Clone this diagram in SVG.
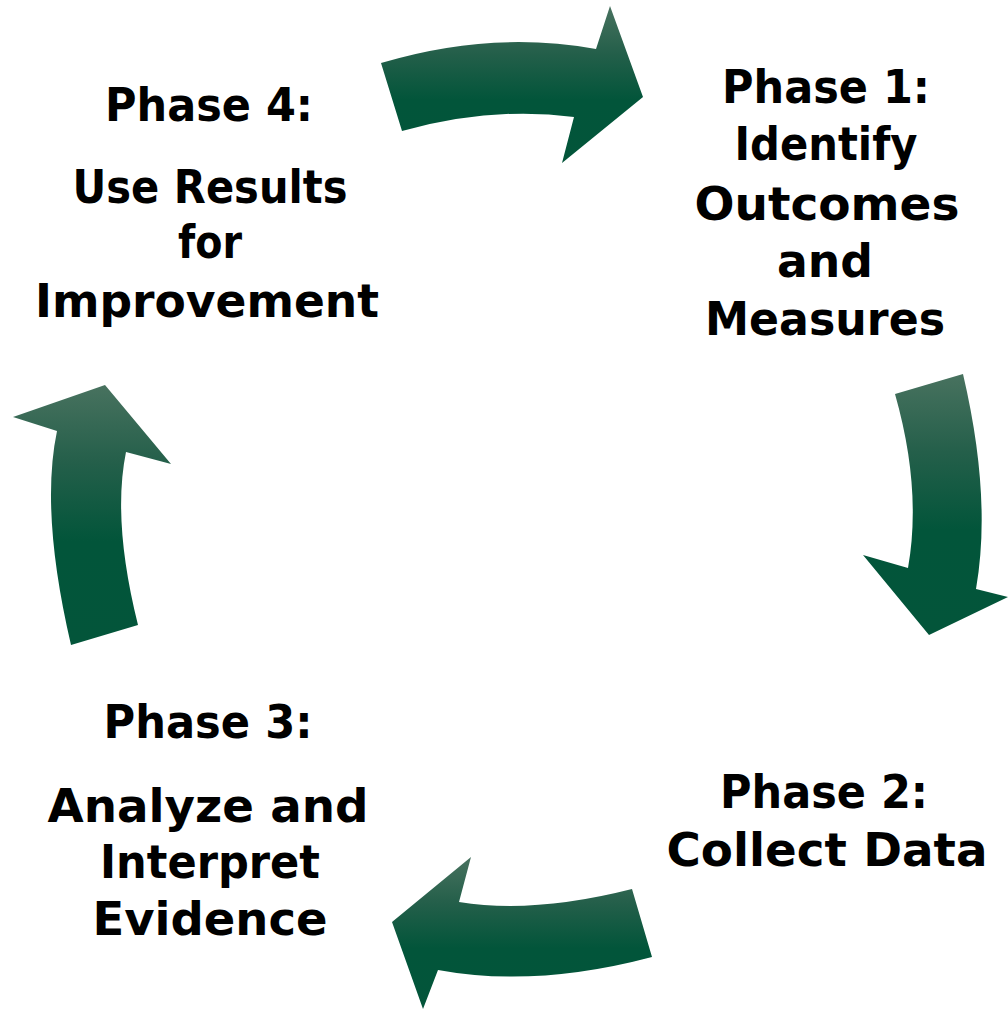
<svg xmlns="http://www.w3.org/2000/svg" width="1008" height="1010" viewBox="0 0 1008 1010">
<style>
.lbl{font-family:"DejaVu Sans","Liberation Sans",sans-serif;font-weight:bold;font-size:47px;fill:#000;text-anchor:middle}
.arr{fill:url(#g)}
</style>
<defs>
<linearGradient id="g" x1="0" y1="0" x2="0" y2="1">
<stop offset="0" stop-color="#48725f"/>
<stop offset="0.3" stop-color="#245f4a"/>
<stop offset="0.6" stop-color="#02553a"/>
<stop offset="1" stop-color="#03553a"/>
</linearGradient>
</defs>
<rect width="1008" height="1010" fill="#fff"/>
<g id="connectors">
<path id="arrow-4-1" class="arr" d="M381,63 Q491,30 596,49 L610,6 L643,97 L562,163 L574,117 Q492,106 402,131 Z"/>
<path id="arrow-1-2" class="arr" d="M895,394 L963,374 Q992,498 976,589 L1008,597 L929,635 L863,555 L908,568 Q922,489 895,394 Z"/>
<path id="arrow-2-3" class="arr" d="M632,889 Q534,914 459,902 L471,857 L392,922 L423,1009 L438,970 Q535,988 652,957 Z"/>
<path id="arrow-3-4" class="arr" d="M71,645 L138,625 Q112,521 126,452 L171,464 L105,385 L13,417 L57,431 Q40,512 71,645 Z"/>
</g>
<g id="phase1">
<text class="lbl" x="826" y="103" textLength="208" lengthAdjust="spacingAndGlyphs">Phase 1:</text>
<text class="lbl" x="826" y="160" textLength="183" lengthAdjust="spacingAndGlyphs">Identify</text>
<text class="lbl" x="827" y="220" textLength="265" lengthAdjust="spacingAndGlyphs">Outcomes</text>
<text class="lbl" x="825" y="277" textLength="96" lengthAdjust="spacingAndGlyphs">and</text>
<text class="lbl" x="825" y="335" textLength="240" lengthAdjust="spacingAndGlyphs">Measures</text>
</g>
<g id="phase2">
<text class="lbl" x="824" y="808" textLength="208" lengthAdjust="spacingAndGlyphs">Phase 2:</text>
<text class="lbl" x="827" y="866" textLength="321" lengthAdjust="spacingAndGlyphs">Collect Data</text>
</g>
<g id="phase3">
<text class="lbl" x="208" y="738" textLength="209" lengthAdjust="spacingAndGlyphs">Phase 3:</text>
<text class="lbl" x="208" y="822" textLength="321" lengthAdjust="spacingAndGlyphs">Analyze and</text>
<text class="lbl" x="210" y="878" textLength="220" lengthAdjust="spacingAndGlyphs">Interpret</text>
<text class="lbl" x="210" y="935" textLength="235" lengthAdjust="spacingAndGlyphs">Evidence</text>
</g>
<g id="phase4">
<text class="lbl" x="209" y="121" textLength="208" lengthAdjust="spacingAndGlyphs">Phase 4:</text>
<text class="lbl" x="210" y="203" textLength="275" lengthAdjust="spacingAndGlyphs">Use Results</text>
<text class="lbl" x="210" y="258" textLength="64" lengthAdjust="spacingAndGlyphs">for</text>
<text class="lbl" x="207" y="317" textLength="344" lengthAdjust="spacingAndGlyphs">Improvement</text>
</g>
</svg>
